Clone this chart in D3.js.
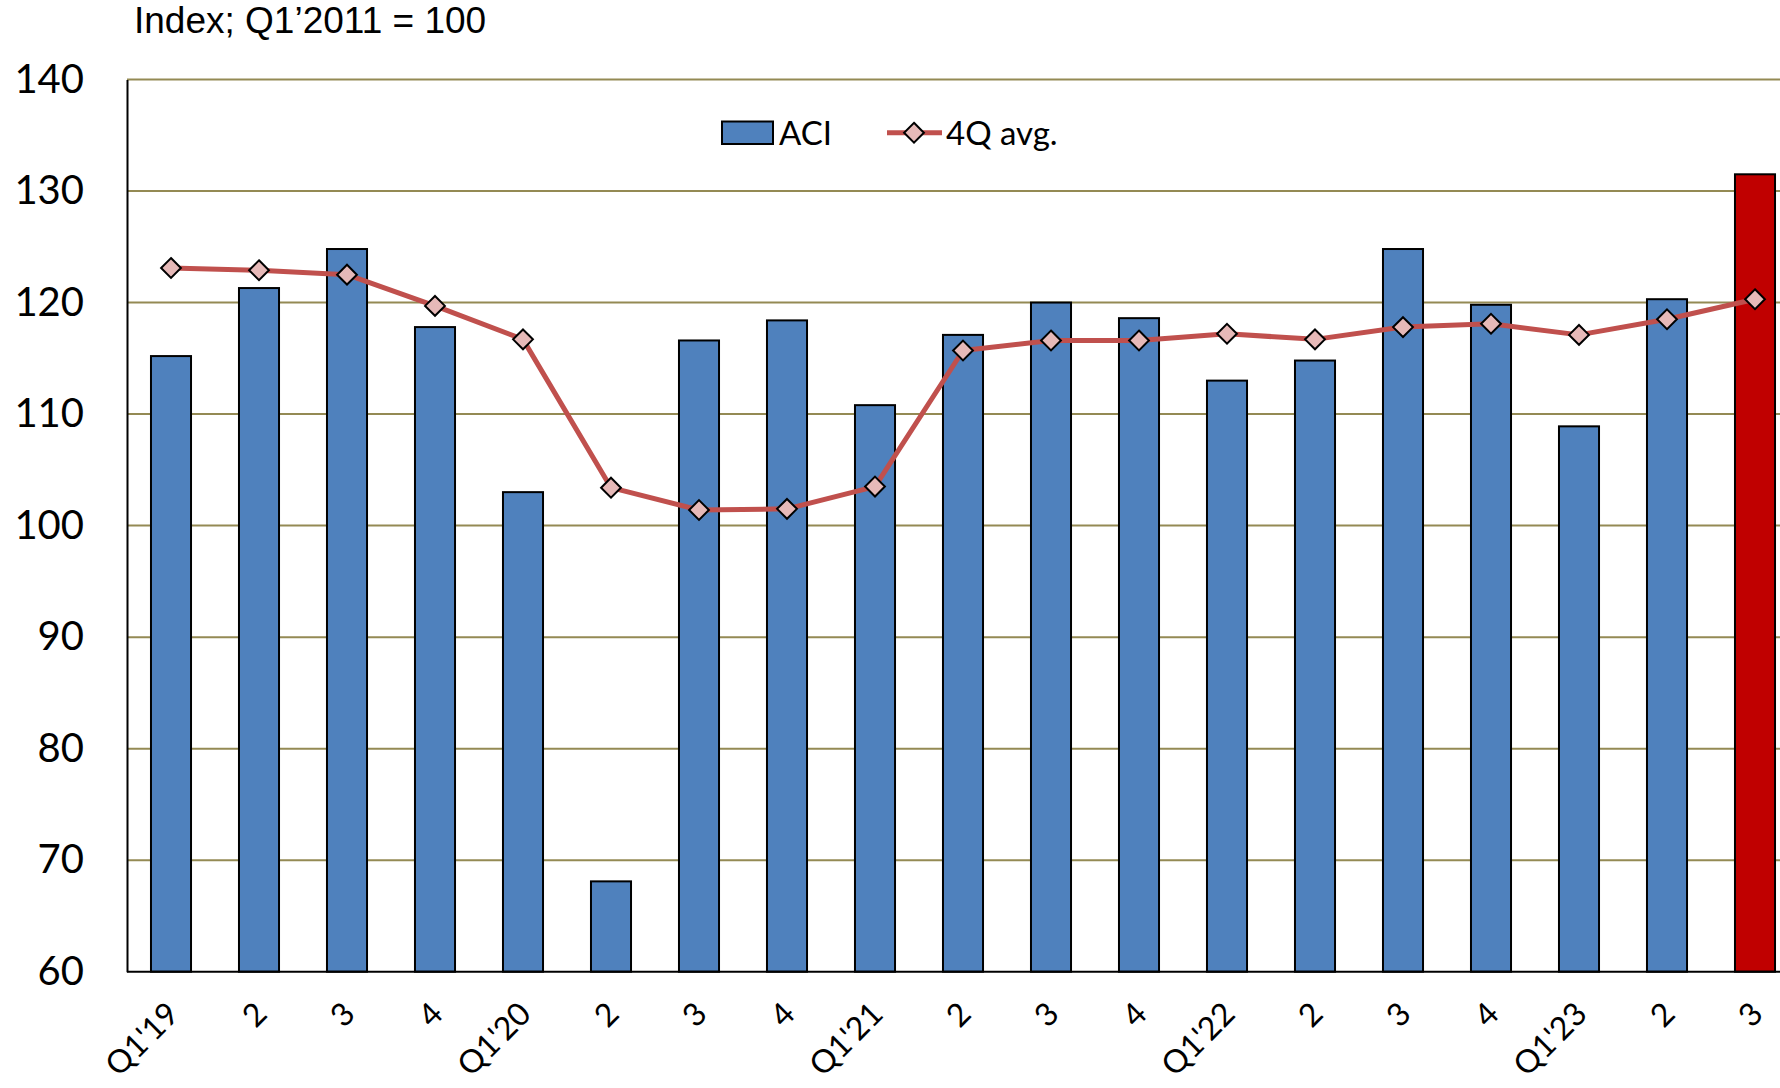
<!DOCTYPE html>
<html>
<head>
<meta charset="utf-8">
<script src="https://cdn.jsdelivr.net/npm/d3@7"></script>
<style>
  html, body { margin: 0; padding: 0; background: #fff; }
  svg { display: block; }
</style>
</head>
<body>
<svg id="chart" width="1780" height="1088"></svg>
<script>
const categories = ["Q1'19","2","3","4","Q1'20","2","3","4","Q1'21","2","3","4","Q1'22","2","3","4","Q1'23","2","3"];
const aciValues = [115.2,121.3,124.8,117.8,103.0,68.1,116.6,118.4,110.8,117.1,120.0,118.6,113.0,114.8,124.8,119.8,108.9,120.3,131.5];
const avg4QValues = [123.1,122.9,122.5,119.7,116.7,103.4,101.4,101.5,103.5,115.7,116.6,116.6,117.2,116.7,117.8,118.1,117.1,118.5,120.3];
const yTicks = [60,70,80,90,100,110,120,130,140];
const seriesNames = ["ACI", "4Q avg."];
const titleText = "Index; Q1\u20192011 = 100";

(function () {
const svg = d3.select("#chart");
const plotLeft = 127, plotTop = 79.5, plotBottom = 971.7, band = 88;
const plotRight = plotLeft + band * categories.length;

const x = d3.scaleBand().domain(d3.range(categories.length)).range([plotLeft, plotRight]).paddingInner(0.545).paddingOuter(0.2725);
const y = d3.scaleLinear().domain([60, 140]).range([plotBottom, plotTop]);

// gridlines
svg.append("g").selectAll("line").data(yTicks.filter(d => d !== 60)).join("line")
  .attr("x1", plotLeft).attr("x2", 1780)
  .attr("y1", d => y(d)).attr("y2", d => y(d))
  .attr("stroke", "#948A54").attr("stroke-width", 2);

// y axis
const yAxis = svg.append("g").attr("transform", `translate(${plotLeft},0)`)
  .call(d3.axisLeft(y).tickValues(yTicks).tickSize(0).tickPadding(43));
yAxis.select(".domain").attr("stroke", "#000").attr("stroke-width", 2);
yAxis.selectAll("text").attr("font-family", "Lato, sans-serif").attr("font-size", 40).attr("fill", "#000");

// bars
svg.append("g").selectAll("rect").data(aciValues).join("rect")
  .attr("x", (d, i) => x(i))
  .attr("width", x.bandwidth())
  .attr("y", d => y(d))
  .attr("height", d => y(60) - y(d))
  .attr("fill", (d, i) => i === aciValues.length - 1 ? "#C00000" : "#4F81BD")
  .attr("stroke", "#000").attr("stroke-width", 2);

// x axis line
svg.append("line").attr("x1", plotLeft).attr("x2", 1780).attr("y1", plotBottom).attr("y2", plotBottom)
  .attr("stroke", "#000").attr("stroke-width", 2);

// x labels
svg.append("g").selectAll("text").data(categories).join("text")
  .attr("transform", (d, i) => `translate(${x(i) + x.bandwidth() / 2 + 2},1008) rotate(-45)`)
  .attr("text-anchor", "end").attr("dy", "0.35em")
  .attr("font-family", "Lato, sans-serif").attr("font-size", 32).attr("fill", "#000")
  .text(d => d);

// line
const line = d3.line()
  .x((d, i) => x(i) + x.bandwidth() / 2)
  .y(d => y(d))
  .curve(d3.curveLinear);
svg.append("path").datum(avg4QValues)
  .attr("d", line).attr("fill", "none")
  .attr("stroke", "#C0504D").attr("stroke-width", 5).attr("stroke-linejoin", "round");

const diamond = d3.symbol().type(d3.symbolDiamond2).size(250);
svg.append("g").selectAll("path").data(avg4QValues).join("path")
  .attr("transform", (d, i) => `translate(${x(i) + x.bandwidth() / 2},${y(d)})`)
  .attr("d", diamond)
  .attr("fill", "#E6B9B8").attr("stroke", "#000").attr("stroke-width", 2);

// title
svg.append("text").attr("x", 134).attr("y", 33)
  .attr("font-family", "'Liberation Sans', Arial, sans-serif").attr("font-size", 37)
  .attr("fill", "#000").text(titleText);

// legend
const lg = svg.append("g");
lg.append("rect").attr("x", 722).attr("y", 121.5).attr("width", 51).attr("height", 22.5)
  .attr("fill", "#4F81BD").attr("stroke", "#000").attr("stroke-width", 2);
lg.append("text").attr("x", 779).attr("y", 145).attr("font-family", "Lato, sans-serif")
  .attr("font-size", 33).attr("fill", "#000").text(seriesNames[0]);
lg.append("line").attr("x1", 887).attr("x2", 942).attr("y1", 132.7).attr("y2", 132.7)
  .attr("stroke", "#C0504D").attr("stroke-width", 5);
lg.append("path").attr("transform", "translate(914,132.7)").attr("d", diamond)
  .attr("fill", "#E6B9B8").attr("stroke", "#000").attr("stroke-width", 2);
lg.append("text").attr("x", 946).attr("y", 145).attr("font-family", "Lato, sans-serif")
  .attr("font-size", 33).attr("fill", "#000").text(seriesNames[1]);
})();
</script>
</body>
</html>
